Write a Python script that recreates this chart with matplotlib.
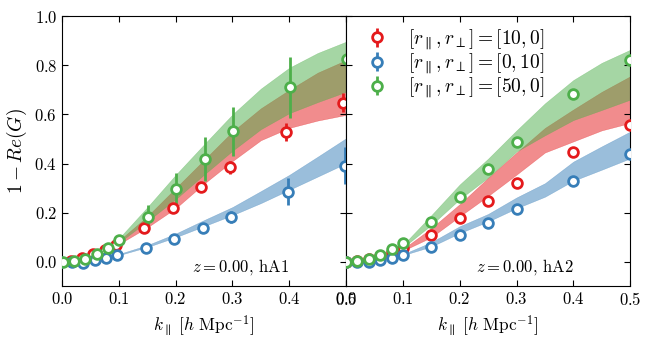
import numpy as np
import matplotlib
matplotlib.use("Agg")
import matplotlib.pyplot as plt

plt.rcParams.update({
    "font.family": "serif",
    "font.serif": ["cmr10", "DejaVu Serif"],
    "mathtext.fontset": "cm",
    "axes.formatter.use_mathtext": True,
    "axes.unicode_minus": False,
})

# k values of the measured points
k_pts = [0.0, 0.02, 0.04, 0.06, 0.08, 0.1, 0.15, 0.2, 0.25, 0.3, 0.4, 0.5]

# hA1 measurements
red_A1 = [0.0, 0.005, 0.015, 0.03, 0.048, 0.068, 0.137, 0.221, 0.304, 0.385, 0.527, 0.648]
red_A1_err = [0.0, 0.0, 0.001, 0.002, 0.004, 0.006, 0.012, 0.015, 0.018, 0.027, 0.037, 0.04]
blue_A1 = [0.0, 0.0, -0.003, 0.008, 0.015, 0.026, 0.056, 0.092, 0.136, 0.182, 0.286, 0.392]
blue_A1_err = [0.0, 0.0, 0.001, 0.002, 0.004, 0.005, 0.01, 0.012, 0.016, 0.025, 0.055, 0.075]
green_A1 = [0.0, 0.003, 0.013, 0.03, 0.056, 0.089, 0.182, 0.298, 0.419, 0.531, 0.710, 0.826]
green_A1_err = [0.0, 0.002, 0.004, 0.008, 0.015, 0.02, 0.05, 0.065, 0.088, 0.1, 0.125, 0.14]

# hA2 measurements
red_A2 = [0.0, 0.003, 0.01, 0.022, 0.038, 0.055, 0.11, 0.178, 0.249, 0.32, 0.448, 0.557]
blue_A2 = [0.0, 0.0, -0.002, 0.006, 0.014, 0.028, 0.062, 0.108, 0.16, 0.215, 0.33, 0.439]
green_A2 = [0.0, 0.003, 0.011, 0.026, 0.052, 0.076, 0.161, 0.265, 0.378, 0.489, 0.683, 0.821]
err_A2 = [0.0, 0.0, 0.001, 0.001, 0.002, 0.002, 0.004, 0.005, 0.006, 0.007, 0.009, 0.012]

# model bands (lower / upper edges)
k_band = [0.0, 0.05, 0.1, 0.15, 0.2, 0.25, 0.3, 0.35, 0.4, 0.45, 0.5]

red_lo_A1 = [0.0, 0.02, 0.072, 0.14, 0.218, 0.318, 0.41, 0.495, 0.545, 0.575, 0.598]
red_hi_A1 = [0.0, 0.024, 0.086, 0.185, 0.30, 0.415, 0.53, 0.625, 0.70, 0.77, 0.821]
green_lo_A1 = [0.0, 0.021, 0.078, 0.165, 0.255, 0.355, 0.452, 0.54, 0.605, 0.65, 0.692]
green_hi_A1 = [0.0, 0.025, 0.095, 0.222, 0.354, 0.478, 0.60, 0.705, 0.79, 0.85, 0.896]
blue_lo_A1 = [0.0, 0.007, 0.027, 0.06, 0.10, 0.145, 0.19, 0.239, 0.293, 0.347, 0.401]
blue_hi_A1 = [0.0, 0.009, 0.032, 0.068, 0.115, 0.17, 0.223, 0.288, 0.354, 0.428, 0.503]

red_lo_A2 = [0.0, 0.012, 0.045, 0.10, 0.185, 0.268, 0.355, 0.445, 0.49, 0.535, 0.565]
red_hi_A2 = [0.0, 0.014, 0.052, 0.137, 0.235, 0.342, 0.445, 0.545, 0.62, 0.692, 0.755]
green_lo_A2 = [0.0, 0.014, 0.058, 0.15, 0.255, 0.343, 0.449, 0.515, 0.577, 0.618, 0.66]
green_hi_A2 = [0.0, 0.017, 0.068, 0.19, 0.315, 0.42, 0.535, 0.645, 0.74, 0.81, 0.863]
blue_lo_A2 = [0.0, 0.008, 0.027, 0.062, 0.117, 0.164, 0.218, 0.265, 0.33, 0.375, 0.421]
blue_hi_A2 = [0.0, 0.009, 0.031, 0.08, 0.145, 0.195, 0.262, 0.32, 0.408, 0.47, 0.53]

labels = [r"$[r_\parallel, r_\perp] = [10, 0]$",
          r"$[r_\parallel, r_\perp] = [0, 10]$",
          r"$[r_\parallel, r_\perp] = [50, 0]$"]
RED, BLUE, GREEN = "#e41a1c", "#377eb8", "#4daf4a"

fig, axes = plt.subplots(1, 2, figsize=(6.53, 3.43), dpi=100, sharey=True)
fig.subplots_adjust(left=0.095, right=0.965, top=0.953, bottom=0.165, wspace=0)

panels = [
    (axes[0], "hA1",
     [(red_lo_A1, red_hi_A1, RED), (blue_lo_A1, blue_hi_A1, BLUE), (green_lo_A1, green_hi_A1, GREEN)],
     [(red_A1, red_A1_err, RED, -0.005), (blue_A1, blue_A1_err, BLUE, -0.0025),
      (green_A1, green_A1_err, GREEN, 0.001)]),
    (axes[1], "hA2",
     [(red_lo_A2, red_hi_A2, RED), (blue_lo_A2, blue_hi_A2, BLUE), (green_lo_A2, green_hi_A2, GREEN)],
     [(red_A2, err_A2, RED, 0.0), (blue_A2, err_A2, BLUE, 0.0), (green_A2, err_A2, GREEN, 0.0)]),
]

kb = np.array(k_band)
kp = np.array(k_pts)
for ax, name, bands, points in panels:
    for lo, hi, c in bands:
        ax.fill_between(kb, lo, hi, facecolor=c, edgecolor=c, alpha=0.5, lw=0.3, zorder=1)
    for (vals, err, c, dx), lab in zip(points, labels):
        ax.errorbar(kp + dx, vals, yerr=err, fmt="o", ms=7, mfc="white", mec=c, mew=2.0,
                    ecolor=c, elinewidth=2.0, capsize=0, label=lab, zorder=3)
    ax.text(0.80, 0.07, r"$z = 0.00$, " + name, transform=ax.transAxes,
            ha="right", va="center", fontsize=12)
    ax.set_xlim(0, 0.5)
    ax.set_ylim(-0.1, 1.0)
    ax.set_xticks([0.0, 0.1, 0.2, 0.3, 0.4, 0.5])
    ax.set_yticks([0.0, 0.2, 0.4, 0.6, 0.8, 1.0])
    ax.tick_params(direction="in", top=True, right=True, length=4, labelsize=12)
    ax.set_xlabel(r"$k_\parallel\ [h\ \mathrm{Mpc}^{-1}]$", fontsize=12.5)

axes[0].set_ylabel(r"$1 - Re(G)$", fontsize=14)
axes[1].tick_params(labelleft=False)
axes[1].legend(loc="upper left", frameon=False, fontsize=14, handletextpad=0.6,
               labelspacing=0.0, borderaxespad=0.2, bbox_to_anchor=(0.0, 1.0))

fig.savefig("out.png", dpi=100)
